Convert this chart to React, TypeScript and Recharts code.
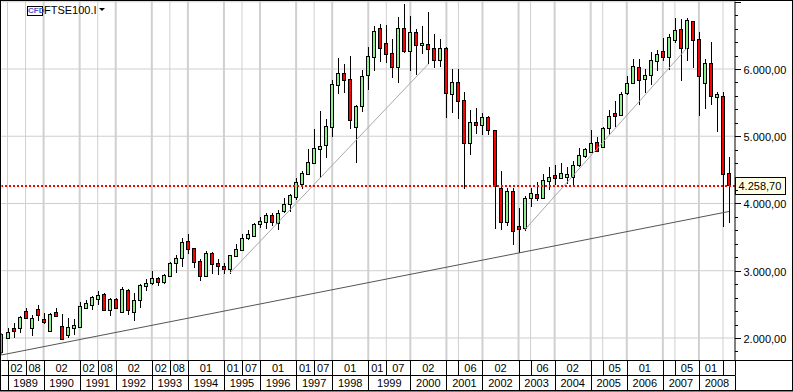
import React from 'react';
import {
    ComposedChart,
    Bar,
    XAxis,
    YAxis,
    CartesianGrid,
    ReferenceLine,
} from 'recharts';

// two-monthly candles, Dec 1988 .. Oct 2008
const opens = [
    1797, 2005, 2144, 2153, 2396, 2153, 2426, 2277, 2104, 2382,
    2173, 2049, 2153, 2168, 2451, 2496, 2585, 2654, 2421, 2580,
    2387, 2714, 2391, 2560, 2778, 2818, 2887, 2838, 2927, 3110,
    3185, 3437, 3333, 3145, 2917, 3259, 3110, 3066, 3021, 3214,
    3308, 3492, 3522, 3700, 3729, 3829, 3714, 3884, 3992, 4092,
    4290, 4439, 4598, 4815, 4874, 5142, 5767, 5936, 5847, 5142,
    5454, 5915, 6183, 6605, 6382, 6233, 6034, 6605, 6272, 6546,
    6352, 6367, 6308, 6138, 6308, 5633, 5802, 5535, 4904, 5207,
    5172, 5282, 5088, 4226, 3729, 4186, 3665, 3631, 4077, 4137,
    4077, 4339, 4424, 4384, 4398, 4398, 4577, 4706, 4766, 4910,
    4836, 5127, 5341, 5316, 5648, 5796, 6025, 5856, 5915, 6123,
    6263, 6174, 6436, 6590, 6317, 6709, 6442, 5796, 6085, 5588,
    5594, 4449,
];
const closes = [
    2059, 2084, 2109, 2312, 2297, 2297, 2347, 2238, 2357, 2332,
    1985, 2163, 2188, 2471, 2515, 2605, 2634, 2421, 2580, 2446,
    2729, 2411, 2560, 2788, 2818, 2887, 2838, 2937, 3115, 3190,
    3422, 3328, 3135, 2927, 3264, 3105, 3076, 3021, 3229, 3318,
    3482, 3541, 3695, 3735, 3829, 3720, 3863, 3992, 4126, 4315,
    4449, 4613, 4821, 4851, 5148, 5772, 5936, 5841, 5246, 5445,
    5891, 6189, 6561, 6317, 6227, 6034, 6605, 6268, 6546, 6357,
    6382, 6302, 6138, 6308, 5639, 5802, 5529, 4904, 5207, 5172,
    5282, 5088, 4260, 3729, 4186, 3587, 3625, 4077, 4152, 4086,
    4345, 4394, 4384, 4449, 4439, 4568, 4717, 4806, 4895, 4781,
    5118, 5297, 5306, 5624, 5787, 6040, 5841, 5906, 6129, 6219,
    6183, 6476, 6575, 6317, 6724, 6436, 5900, 6085, 5603, 5624,
    4434, 4270,
];
const highs = [
    2079, 2144, 2218, 2327, 2446, 2342, 2491, 2367, 2367, 2446,
    2352, 2292, 2277, 2535, 2565, 2620, 2694, 2664, 2600, 2590,
    2758, 2729, 2669, 2798, 2877, 2996, 2907, 2957, 3125, 3229,
    3487, 3546, 3343, 3170, 3289, 3274, 3170, 3120, 3239, 3393,
    3541, 3601, 3705, 3794, 3863, 3854, 3903, 4077, 4141, 4375,
    4479, 4810, 5103, 5375, 5256, 5836, 6159, 6074, 6193, 5460,
    5985, 6327, 6639, 6669, 6654, 6446, 6769, 6967, 6788, 6590,
    6639, 6848, 6520, 6446, 6327, 5995, 5995, 5653, 5390, 5416,
    5341, 5297, 5093, 4479, 4226, 4226, 3929, 4111, 4226, 4324,
    4439, 4547, 4572, 4602, 4538, 4636, 4821, 4830, 5093, 4993,
    5142, 5390, 5524, 5653, 5896, 6149, 6144, 6000, 6257, 6282,
    6465, 6520, 6758, 6748, 6758, 6718, 6550, 6149, 6397, 5653,
    5653, 4687,
];
const lows = [
    1747, 1980, 2005, 2079, 2287, 2034, 2248, 2213, 2089, 2317,
    1975, 2005, 2044, 2153, 2431, 2416, 2491, 2406, 2332, 2426,
    2377, 2347, 2258, 2446, 2704, 2788, 2773, 2808, 2917, 2972,
    3056, 3249, 3041, 2853, 2907, 2952, 2942, 2952, 2957, 3204,
    3299, 3452, 3507, 3641, 3621, 3665, 3606, 3854, 3878, 4045,
    4211, 4424, 4587, 4379, 4677, 4993, 5628, 5648, 5112, 4607,
    5365, 5688, 5970, 6104, 6085, 5866, 5796, 6242, 5970, 5911,
    6223, 6074, 6015, 6030, 5271, 5346, 5256, 4220, 4721, 5033,
    5018, 5018, 3625, 3606, 3670, 3383, 3268, 3596, 3952, 4042,
    4067, 4201, 4275, 4375, 4285, 4275, 4547, 4672, 4755, 4770,
    4825, 5018, 5133, 5306, 5613, 5787, 5465, 5643, 5762, 5970,
    6123, 5985, 6391, 5822, 6123, 6019, 5306, 5405, 5465, 5063,
    3655, 3706,
];

// candle index of each date-strip cell and its label
const monthStarts = [1, 4, 7, 13, 16, 19, 25, 28, 31, 37, 40, 43, 49, 52, 55, 61, 64, 68, 74, 76, 80, 86, 88, 92, 98, 100, 104, 110, 112, 116, 120, 122];
const monthLabels = ['02', '08', '02', '02', '08', '02', '02', '08', '01', '01', '07', '01', '01', '07', '01', '01', '07', '02', '', '06', '02', '', '06', '02', '', '05', '01', '', '05', '01', '', ''];
const yearStarts = [1, 7, 13, 19, 25, 31, 37, 43, 49, 55, 61, 68, 74, 80, 86, 92, 98, 104, 110, 116, 122];
const yearLabels = ['1989', '1990', '1991', '1992', '1993', '1994', '1995', '1996', '1997', '1998', '1999', '2000', '2001', '2002', '2003', '2004', '2005', '2006', '2007', '2008', ''];
const thickGrid = yearStarts.slice(1, -1);
const thinGrid = monthStarts.filter((v) => !yearStarts.slice(1).includes(v));

const priceTicks = [1800, 2000, 2200, 2400, 2600, 2800, 3000, 3200, 3400, 3600, 3800, 4000, 4200, 4400, 4600, 4800, 5000, 5200, 5400, 5600, 5800, 6000, 6200, 6400, 6600, 6800, 7000];
const priceGrid = [2000, 3000, 4000, 5000, 6000, 7000];
const priceLabels = ['2.000,00', '3.000,00', '4.000,00', '5.000,00', '6.000,00', ''];
const lastPrice = 4258.7;
const lastPriceLabel = '4.258,70';

// [candle, price] ends of the hand drawn trend lines
const riseOne = [[38, 2966], [71, 6074]];
const riseTwo = [[87, 3606], [114, 6312]];
const longTrend = [[0, 1747], [121, 3881]];

const data = opens.map((open, i) => ({
    i,
    open,
    close: closes[i],
    high: highs[i],
    low: lows[i],
    range: [lows[i], highs[i]],
}));

const FONT = '"Liberation Sans", Arial, sans-serif';
const PITCH = 6.007;
const ROW = 15;

const Candle = (props: any) => {
    const { x, y, width, height, payload } = props;
    const { open, close, high, low } = payload;
    const toPx = (v: number) => y + ((high - v) / (high - low)) * height;
    const cx = Math.floor(x + width / 2) + 0.5;
    const top = Math.round(toPx(Math.max(open, close))) + 0.5;
    const bottom = Math.round(toPx(Math.min(open, close))) + 0.5;
    return (
        <g shapeRendering="crispEdges">
            <line x1={cx} x2={cx} y1={y} y2={y + height} stroke="#000" strokeWidth={1} />
            <rect
                x={cx - 2}
                y={top}
                width={3}
                height={Math.max(bottom - top, 1)}
                fill={close >= open ? '#90EE90' : '#FF0000'}
                stroke="#000"
                strokeWidth={1}
            />
        </g>
    );
};

const stripTick = (starts: number[], labels: string[]) => (props: any) => {
    const { x, y, payload } = props;
    const idx = starts.indexOf(payload.value);
    const next = starts[idx + 1] ?? payload.value;
    const mid = x + ((next - payload.value) * PITCH) / 2;
    const px = Math.round(x) + 0.5;
    return (
        <g>
            <line x1={px} x2={px} y1={y} y2={y + ROW} stroke="#000" />
            <text x={mid} y={y + 11.5} textAnchor="middle" fontFamily={FONT} fontSize={11} fill="#000">
                {labels[idx]}
            </text>
        </g>
    );
};

const PriceTick = (props: any) => {
    const { x, y, payload } = props;
    const major = payload.value % 1000 === 0;
    const label = priceLabels[priceGrid.indexOf(payload.value)];
    const py = Math.round(y) + 0.5;
    return (
        <g>
            <line x1={x} x2={x + (major ? 6 : 3)} y1={py} y2={py} stroke="#000" />
            {label && (
                <text x={x + 8.5} y={py + 4} fontFamily={FONT} fontSize={11} fill="#000">
                    {label}
                </text>
            )}
        </g>
    );
};

const PriceFlag = (props: any) => {
    const { x, y, width } = props.viewBox;
    const left = x + width + 0.5;
    return (
        <g>
            <rect x={left} y={Math.round(y) - 8.5} width={50} height={17} fill="#FFFFE6" stroke="#000" />
            <text x={left + 3} y={y + 4} fontFamily={FONT} fontSize={11} fill="#000">
                {lastPriceLabel}
            </text>
        </g>
    );
};

const segmentOf = (pts: number[][]) => pts.map(([x, y]) => ({ x, y }));

const frameLine = (left: number, top: number, width: number, height: number, color = '#000') => (
    <div style={{ position: 'absolute', left, top, width, height, background: color }} />
);

export default function App() {
    return (
        <div style={{ position: 'absolute', left: 0, top: 0, width: 793, height: 392, background: '#fff', overflow: 'hidden' }}>
            <ComposedChart
                width={793}
                height={392}
                data={data}
                margin={{ top: 1.55, right: 0, bottom: 1.5, left: 1.5 }}
                style={{ position: 'absolute', left: 0, top: 0 }}
            >
                <CartesianGrid vertical={false} horizontalValues={priceGrid} stroke="#cfcfcf" xAxisId="months" />
                <CartesianGrid horizontal={false} verticalValues={thickGrid} stroke="#d0d0d0" strokeWidth={2} xAxisId="months" />
                <CartesianGrid horizontal={false} verticalValues={thinGrid} stroke="#d0d0d0" strokeWidth={1} xAxisId="months" />
                <XAxis
                    xAxisId="months"
                    dataKey="i"
                    type="number"
                    domain={[0, 122]}
                    ticks={monthStarts}
                    interval={0}
                    height={ROW}
                    allowDataOverflow
                    tickSize={0}
                    tickMargin={0}
                    tickLine={false}
                    stroke="#000"
                    tick={stripTick(monthStarts, monthLabels)}
                />
                <XAxis
                    xAxisId="years"
                    dataKey="i"
                    type="number"
                    domain={[0, 122]}
                    ticks={yearStarts}
                    interval={0}
                    height={ROW}
                    allowDataOverflow
                    tickSize={0}
                    tickMargin={0}
                    tickLine={false}
                    stroke="#000"
                    tick={stripTick(yearStarts, yearLabels)}
                />
                <YAxis
                    orientation="right"
                    type="number"
                    width={58}
                    domain={[1665, 7003]}
                    ticks={priceTicks}
                    interval={0}
                    allowDataOverflow
                    tickSize={0}
                    tickMargin={0}
                    tickLine={false}
                    stroke="#000"
                    tick={PriceTick}
                />
                <Bar xAxisId="months" dataKey="range" barSize={3} shape={Candle} isAnimationActive={false} />
                <ReferenceLine xAxisId="months" segment={segmentOf(riseOne)} stroke="#a8a8a8" />
                <ReferenceLine xAxisId="months" segment={segmentOf(riseTwo)} stroke="#a8a8a8" />
                <ReferenceLine xAxisId="months" segment={segmentOf(longTrend)} stroke="#555" />
                <ReferenceLine
                    xAxisId="months"
                    y={lastPrice}
                    stroke="#f00"
                    strokeWidth={2}
                    strokeDasharray="2 2"
                    label={PriceFlag}
                />
            </ComposedChart>
            {frameLine(0, 0, 793, 1)}
            {frameLine(0, 0, 1, 390)}
            {frameLine(792, 0, 1, 391)}
            {frameLine(735, 360, 58, 1)}
            {frameLine(0, 390, 793, 1)}
            {frameLine(0, 391, 793, 1, '#808080')}
            <div style={{ position: 'absolute', left: 27, top: 6, width: 14, height: 8, border: '1px solid #000', color: '#5050d0', fontFamily: FONT, fontSize: 8, fontWeight: 700, lineHeight: '8px', textAlign: 'center' }}>
                CFD
            </div>
            <div style={{ position: 'absolute', left: 44, top: 3, fontFamily: FONT, fontSize: 11, lineHeight: '14px', color: '#000' }}>
                FTSE100.I
            </div>
            <div style={{ position: 'absolute', left: 99, top: 8, width: 0, height: 0, borderLeft: '3px solid transparent', borderRight: '3px solid transparent', borderTop: '3px solid #000' }} />
        </div>
    );
}
